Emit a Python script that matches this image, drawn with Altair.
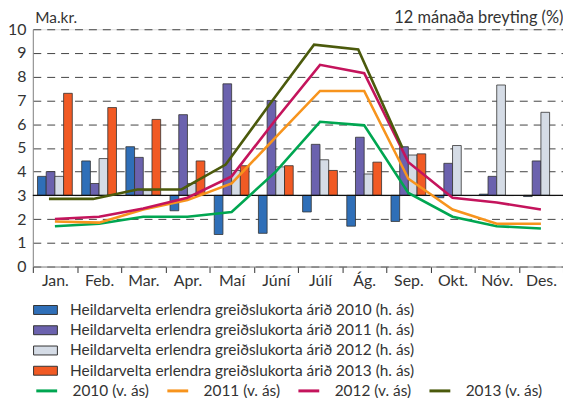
import altair as alt
import pandas as pd

months = ["Jan.", "Feb.", "Mar.", "Apr.", "Maí", "Júní", "Júlí", "Ág.", "Sep.", "Okt.", "Nóv.", "Des."]

# Bars: 12 mánaða breyting (%), right axis (h. ás)
bar_names = [
    "Heildarvelta erlendra greiðslukorta árið 2010 (h. ás)",
    "Heildarvelta erlendra greiðslukorta árið 2011 (h. ás)",
    "Heildarvelta erlendra greiðslukorta árið 2012 (h. ás)",
    "Heildarvelta erlendra greiðslukorta árið 2013 (h. ás)",
]
bar_2010 = [8, 14.5, 20.5, -6.5, -16.5, -16, -7, -13, -11, -1, 0.5, -0.5]
bar_2011 = [10, 5, 16, 34, 47, 40, 21.5, 24.5, 20.5, 13.5, 8, 14.5]
bar_2012 = [8, 15.5, 2, 5, 10.5, 12, 15, 9, 17, 21, 46.5, 35]
bar_2013 = [43, 37, 32, 14.5, 12.5, 12.5, 10.5, 14, 17.5, None, None, None]
bar_colors = ["#2f6fb8", "#6b62ae", "#d5dce6", "#f15a24"]

# Lines: Ma.kr., left axis (v. ás)
line_names = ["2010 (v. ás)", "2011 (v. ás)", "2012 (v. ás)", "2013 (v. ás)"]
line_2010 = [1.7, 1.8, 2.1, 2.1, 2.3, 4.0, 6.1, 5.95, 3.1, 2.1, 1.7, 1.6]
line_2011 = [1.9, 1.85, 2.4, 2.8, 3.5, 5.45, 7.4, 7.4, 3.7, 2.4, 1.8, 1.8]
line_2012 = [2.0, 2.1, 2.45, 2.9, 3.8, 6.2, 8.5, 8.15, 4.4, 2.9, 2.7, 2.4]
line_2013 = [2.85, 2.85, 3.25, 3.25, 4.3, 6.85, 9.35, 9.15, 5.0, None, None, None]
line_colors = ["#00a651", "#f7941d", "#c4145c", "#4b5a0c"]

bar_rows = []
for name, vals in zip(bar_names, [bar_2010, bar_2011, bar_2012, bar_2013]):
    for m, v in zip(months, vals):
        if v is not None:
            bar_rows.append({"month": m, "series": name, "value": v})
bars_df = pd.DataFrame(bar_rows)

line_rows = []
for name, vals in zip(line_names, [line_2010, line_2011, line_2012, line_2013]):
    for m, v in zip(months, vals):
        if v is not None:
            line_rows.append({"month": m, "series": name, "value": v})
lines_df = pd.DataFrame(line_rows)

FONT = "Lato"
TXT = "#333"

x_enc = alt.X(
    "month:N", sort=months, title=None,
    scale=alt.Scale(paddingInner=0, paddingOuter=0),
    axis=alt.Axis(labelAngle=0, tickBand="extent", ticks=True, tickSize=6,
                  tickColor="#333", domainColor="#888", labelFontSize=16,
                  labelColor=TXT, labelPadding=0, labelFont=FONT, grid=False),
)

bars = alt.Chart(bars_df).mark_bar(stroke="#333", strokeWidth=0.8).encode(
    x=x_enc,
    xOffset=alt.XOffset("series:N", sort=bar_names,
                        scale=alt.Scale(paddingInner=0, paddingOuter=0.54)),
    y=alt.Y("value:Q", title="12 mánaða breyting (%)",
            scale=alt.Scale(domain=[-30, 70], nice=False, zero=False),
            axis=alt.Axis(orient="right", labels=False, ticks=False, domain=False,
                          grid=False, titleAngle=0, titleAlign="right",
                          titleBaseline="alphabetic", titleX=0, titleY=-7,
                          titleFontSize=16.5, titleFontWeight="normal",
                          titleColor=TXT, titleFont=FONT)),
    y2=alt.datum(0),
    fill=alt.Fill("series:N", sort=bar_names,
                  scale=alt.Scale(domain=bar_names, range=bar_colors),
                  legend=alt.Legend(orient="none", legendX=5, legendY=275,
                                    direction="vertical", title=None,
                                    symbolType="M-2,-0.75H2V0.75H-2Z",
                                    symbolSize=144, symbolStrokeColor="#333",
                                    symbolStrokeWidth=1, symbolOpacity=1,
                                    labelOffset=17, labelFontSize=15.5,
                                    labelFont=FONT, labelColor=TXT, labelLimit=0,
                                    rowPadding=3.4, padding=0)),
)

y_left = alt.Y("value:Q", title="Ma.kr.",
               scale=alt.Scale(domain=[0, 10], nice=False),
               axis=alt.Axis(orient="left", values=list(range(0, 11)), ticks=False,
                             domainColor="#888", labelFontSize=16, labelColor=TXT,
                             labelFont=FONT, labelPadding=7,
                             grid=True, gridDash=[8, 6], gridColor="#444",
                             gridWidth=1, titleAngle=0, titleAlign="left",
                             titleBaseline="alphabetic", titleX=2, titleY=-7,
                             titleFontSize=15.5, titleFontWeight="normal",
                             titleColor=TXT, titleFont=FONT))

stroke_enc = alt.Stroke("series:N", sort=line_names,
                        scale=alt.Scale(domain=line_names, range=line_colors),
                        legend=alt.Legend(orient="none", legendX=2, legendY=352,
                                          direction="horizontal", columns=4,
                                          title=None, symbolType="stroke",
                                          symbolSize=441, symbolStrokeWidth=3,
                                          labelOffset=14, labelFontSize=15.5,
                                          labelFont=FONT, labelColor=TXT, labelLimit=0,
                                          columnPadding=11, padding=0))

baseline_df = pd.DataFrame({"value": [3]})
baseline = alt.Chart(baseline_df).mark_rule(color="#111", strokeWidth=1.2).encode(y=y_left)

lines_a = alt.Chart(lines_df[lines_df.series != line_names[3]]).mark_line(strokeWidth=2.6).encode(
    x=alt.X("month:N", sort=months), y=y_left, stroke=stroke_enc,
)
lines_b = alt.Chart(lines_df[lines_df.series == line_names[3]]).mark_line(strokeWidth=2.6, xOffset=-6).encode(
    x=alt.X("month:N", sort=months), y=y_left, stroke=stroke_enc,
)

left_layer = alt.layer(baseline, lines_a, lines_b)

chart = alt.layer(bars, left_layer).resolve_scale(y="independent").properties(
    width=534, height=239,
    autosize=alt.AutoSizeParams(type="none"),
    padding={"left": 25, "top": 20, "right": 0, "bottom": 131},
).configure_view(stroke="#888", strokeWidth=1).configure(font=FONT)

chart.save("out.html", embed_options={"renderer": "svg", "actions": False})
